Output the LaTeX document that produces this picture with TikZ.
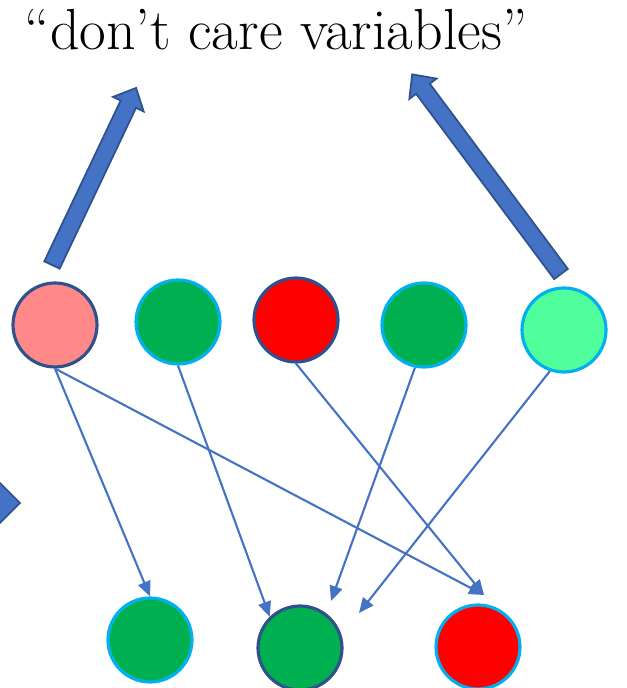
\documentclass[tikz,border=0pt]{standalone}
\usepackage{fontspec}
\usetikzlibrary{arrows.meta}
\definecolor{linkblue}{HTML}{4472C4}
\definecolor{rimdark}{HTML}{2F528F}
\definecolor{rimsky}{HTML}{00B0F0}
\definecolor{vgreen}{HTML}{00B050}
\definecolor{vred}{HTML}{FF0000}
\definecolor{vpink}{HTML}{FF8989}
\definecolor{vmint}{HTML}{50FF9B}
\begin{document}
\begin{tikzpicture}[x=0.02cm,y=0.02cm,
  var/.style={circle,minimum size=1.68cm,inner sep=0pt,line width=1.8pt},
  dark/.style={var,draw=rimdark},
  sky/.style={var,draw=rimsky},
  link/.style={linkblue,line width=1.2pt,-{Triangle[length=0.3cm,width=0.26cm]}},
  bigarrow/.style={draw=rimdark,fill=linkblue,line width=1pt,line join=miter}]
\useasboundingbox (0,0) rectangle (626,688);

\node[anchor=base] (dc) at (276,638) {\fontsize{33}{40}\selectfont “don’t care variables”};

% upper row
\node[dark,fill=vpink]  (a) at (55,363) {};
\node[sky,fill=vgreen]  (b) at (178,366) {};
\node[dark,fill=vred]   (c) at (296,368) {};
\node[sky,fill=vgreen]  (d) at (424,363) {};
\node[sky,fill=vmint]   (e) at (564,358) {};

% lower row
\node[sky,fill=vgreen]  (f) at (150,48) {};
\node[dark,fill=vgreen] (g) at (300,40) {};
\node[sky,fill=vred]    (h) at (478,41) {};

\coordinate (hin) at (484,93);
\coordinate (gind) at (331,87);
\coordinate (gine) at (359,75);

\draw[link] (a.south) -- (f.north);
\draw[link] (a.south) -- (hin);
\draw[link] (b.south) -- (g.134);
\draw[link] (c.south) -- (hin);
\draw[link] (d.258) -- (gind);
\draw[link] (e.251) -- (gine);

% block arrows up to the label
\begin{scope}[shift={(52,423)},rotate=64.6]
\draw[bigarrow] (0,-8.5) -- (178,-8.5) -- (178,-17) -- (196,0) -- (178,17) -- (178,8.5) -- (0,8.5) -- cycle;
\end{scope}
\begin{scope}[shift={(561,414)},rotate=126.7]
\draw[bigarrow] (0,-8.5) -- (231,-8.5) -- (231,-17) -- (249,0) -- (231,17) -- (231,8.5) -- (0,8.5) -- cycle;
\end{scope}

% head of an arrow coming in from the left
\draw[bigarrow] (-10,215) -- (20,185) -- (-10,155) -- cycle;
\end{tikzpicture}
\end{document}
